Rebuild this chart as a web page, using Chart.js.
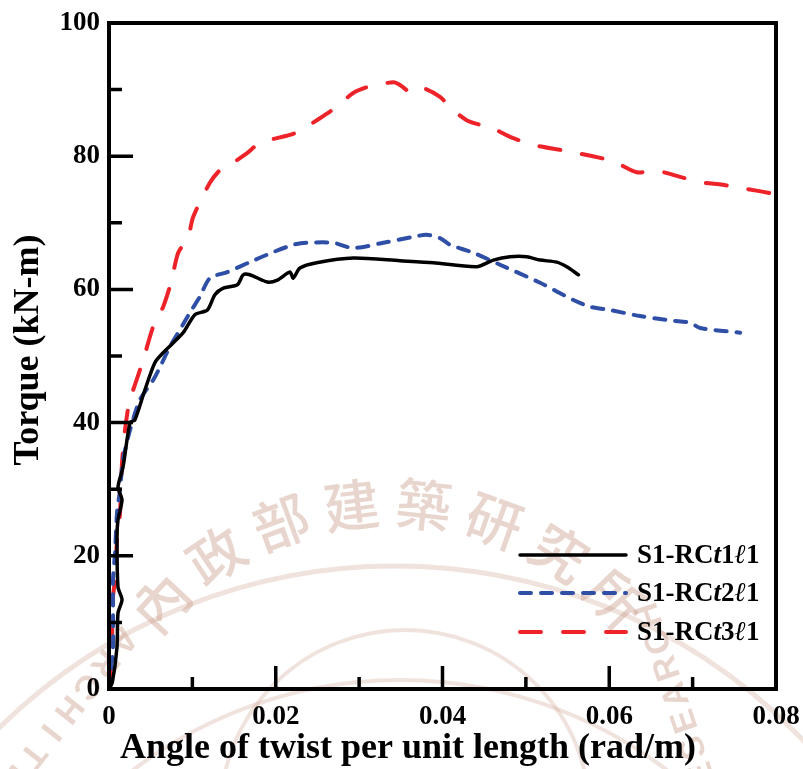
<!DOCTYPE html>
<html>
<head>
<meta charset="utf-8">
<script src="https://cdn.jsdelivr.net/npm/chart.js@4/dist/chart.umd.min.js"></script>
<style>
  html, body { margin: 0; padding: 0; background: #fff; }
</style>
</head>
<body>
<canvas id="torque" width="803" height="769"></canvas>
<script>
// S1-RCt1l1 (black, solid)
const t1Angle  = [0, 0.0004, 0.00096, 0.00108, 0.00156, 0.00108, 0.00096, 0.00108, 0.00156, 0.00108, 0.00168, 0.00252, 0.0031, 0.0043, 0.0055, 0.0065, 0.0089, 0.0103, 0.0118, 0.0127, 0.0137, 0.0154, 0.0161, 0.0169, 0.019, 0.0202, 0.0217, 0.0221, 0.0229, 0.0249, 0.0293, 0.0349, 0.0389, 0.0441, 0.0461, 0.0481, 0.0501, 0.0517, 0.0537, 0.0549, 0.0563];
const t1Torque = [0, 1, 6.3, 11.4, 13.4, 15.3, 22.8, 25.4, 28.4, 30.3, 33.3, 40, 40.4, 44.9, 49, 50.5, 53.5, 56.2, 56.9, 59.2, 60.2, 60.7, 62.2, 62.2, 61.1, 61.4, 62.6, 61.7, 63.2, 64, 64.7, 64.3, 64, 63.4, 64.4, 64.9, 64.9, 64.4, 64.1, 63.4, 62.2];

// S1-RCt2l1 (blue, short dash)
const t2Angle  = [0, 0.00012, 0.00048, 0.00048, 0.00048, 0.00072, 0.00096, 0.00132, 0.00168, 0.00252, 0.0037, 0.0053, 0.0061, 0.0073, 0.0085, 0.0097, 0.0109, 0.0121, 0.0142, 0.0169, 0.0197, 0.0221, 0.0237, 0.0269, 0.0293, 0.0329, 0.0365, 0.0381, 0.0397, 0.0409, 0.0437, 0.0469, 0.0517, 0.0557, 0.0577, 0.0601, 0.0637, 0.0676, 0.0697, 0.0709, 0.0757];
const t2Torque = [0, 1.4, 6.3, 12.3, 16.4, 20.4, 26.4, 29.9, 34.4, 38.9, 43.4, 46.4, 48.3, 51.4, 53.9, 56.5, 58.9, 61.7, 62.6, 64.1, 65.6, 66.7, 67, 67, 66.2, 67, 67.9, 68.2, 67.7, 66.7, 65.5, 63.7, 61, 58.4, 57.4, 56.9, 56, 55.3, 55, 54.2, 53.5];

// S1-RCt3l1 (red, long dash)
const t3Angle  = [0, 0.00012, 0.00036, 0.00048, 0.00072, 0.00096, 0.00132, 0.00156, 0.00192, 0.00252, 0.0029, 0.0041, 0.0053, 0.0065, 0.0073, 0.0076, 0.0083, 0.0095, 0.0101, 0.0121, 0.0133, 0.0145, 0.0166, 0.0181, 0.0217, 0.0229, 0.0253, 0.0273, 0.0293, 0.0313, 0.0341, 0.0349, 0.0361, 0.0369, 0.0377, 0.0397, 0.0413, 0.0429, 0.0445, 0.0465, 0.0481, 0.0509, 0.0557, 0.0601, 0.0609, 0.0633, 0.0657, 0.0685, 0.0709, 0.0736, 0.076, 0.08];
const t3Torque = [0, 1.4, 7.4, 13.8, 16.4, 22.4, 26.4, 33.9, 38.9, 43.8, 44.9, 49.4, 54.4, 57.4, 60.4, 61.9, 65.5, 67.9, 70.9, 76, 77.9, 78.7, 80.5, 82, 83.2, 83.8, 85.7, 87.4, 89.5, 90.5, 91.1, 90.7, 89.6, 89.6, 90.2, 88.9, 86.9, 85.4, 84.7, 83.9, 82.9, 81.7, 80.6, 79.4, 79, 77.6, 77.8, 76.9, 76.1, 75.7, 75.2, 74.3];

const seriesNames = ['S1-RCt1ℓ1', 'S1-RCt2ℓ1', 'S1-RCt3ℓ1'];

const xMajor = [0, 0.02, 0.04, 0.06, 0.08];
const xLabels = ['0', '0.02', '0.04', '0.06', '0.08'];
const yMajor = [0, 20, 40, 60, 80, 100];
const yLabels = ['0', '20', '40', '60', '80', '100'];

const xTitle = 'Angle of twist per unit length (rad/m)';
const yTitle = 'Torque (kN-m)';

const sealName = ['內', '政', '部', '建', '築', '研', '究', '所'];

const pts = (xs, ys) => xs.map((x, i) => ({ x: x, y: ys[i] }));
const majorLabel = (v, majors, labels) => {
  const i = majors.findIndex(m => Math.abs(m - v) < 1e-9);
  return i >= 0 ? labels[i] : '';
};

const SERIF = '"Liberation Serif", "Times New Roman", serif';

// faint seal printed behind the plot
const watermark = {
  id: 'watermark',
  beforeDraw(chart) {
    const ctx = chart.ctx;
    ctx.save();
    ctx.strokeStyle = 'rgba(195,145,125,0.25)';
    ctx.lineWidth = 5;
    ctx.beginPath(); ctx.arc(395, 1131, 565, 0, Math.PI * 2); ctx.stroke();
    ctx.lineWidth = 4;
    ctx.beginPath(); ctx.arc(405, 815, 185, Math.PI, Math.PI * 2); ctx.stroke();
    ctx.beginPath(); ctx.arc(400, 1120, 440, 0, Math.PI * 2); ctx.stroke();

    ctx.fillStyle = 'rgba(195,145,125,0.38)';
    const cx = 390, cy = 816;
    ctx.textAlign = 'center';
    ctx.textBaseline = 'middle';
    ctx.font = '500 56px "Noto Sans CJK TC"';
    sealName.forEach((ch, i) => {
      const a = (-47 + i * 13.3) * Math.PI / 180;
      ctx.save();
      ctx.translate(cx + 313 * Math.sin(a), cy - 313 * Math.cos(a));
      ctx.rotate(a);
      ctx.fillText(ch, 0, 0);
      ctx.restore();
    });

    // English ring text, read from inside the seal
    ctx.font = 'bold 34px "Liberation Sans"';
    const run = (word, x0, y0, x1, y1) => {
      const n = word.length;
      const ang = Math.atan2(y1 - y0, x1 - x0);
      [...word].forEach((ch, i) => {
        const f = n > 1 ? i / (n - 1) : 0;
        ctx.save();
        ctx.translate(x0 + (x1 - x0) * f, y0 + (y1 - y0) * f);
        ctx.rotate(ang);
        ctx.fillText(ch, 0, 0);
        ctx.restore();
      });
    };
    run('ARCHITEC', 122, 640, -4, 800);
    run('RESEARCH', 712, 800, 650, 615);
    ctx.restore();
  }
};

// frame, inward ticks, axis titles and legend
const decor = {
  id: 'decor',
  afterDraw(chart) {
    const ctx = chart.ctx;
    const a = chart.chartArea;
    const xs = chart.scales.x, ys = chart.scales.y;
    ctx.save();
    ctx.strokeStyle = '#000';
    ctx.lineWidth = 4;
    ctx.strokeRect(a.left, a.top, a.right - a.left, a.bottom - a.top);

    ctx.lineWidth = 3.5;
    ctx.beginPath();
    xs.ticks.forEach(t => {
      const px = xs.getPixelForValue(t.value);
      const len = majorLabel(t.value, xMajor, xLabels) ? 23 : 12;
      ctx.moveTo(px, a.bottom);
      ctx.lineTo(px, a.bottom - len);
    });
    ys.ticks.forEach(t => {
      const py = ys.getPixelForValue(t.value);
      const len = majorLabel(t.value, yMajor, yLabels) ? 24 : 13;
      ctx.moveTo(a.left, py);
      ctx.lineTo(a.left + len, py);
    });
    ctx.stroke();

    ctx.fillStyle = '#000';
    ctx.font = 'bold 36px ' + SERIF;
    ctx.textAlign = 'center';
    ctx.textBaseline = 'alphabetic';
    ctx.fillText(xTitle, 408, 758);
    ctx.save();
    ctx.translate(38, 350);
    ctx.rotate(-Math.PI / 2);
    ctx.fillText(yTitle, 0, 0);
    ctx.restore();

    // legend
    const rowY = [555, 593, 632];
    chart.data.datasets.forEach((ds, i) => {
      ctx.save();
      ctx.strokeStyle = ds.borderColor;
      ctx.lineWidth = ds.borderWidth;
      ctx.lineCap = 'round';
      ctx.setLineDash(ds.borderDash || []);
      ctx.beginPath();
      ctx.moveTo(520, rowY[i]);
      ctx.lineTo(626, rowY[i]);
      ctx.stroke();
      ctx.restore();

      let x = 637;
      ctx.textAlign = 'left';
      ctx.textBaseline = 'middle';
      for (const ch of ds.label) {
        const italic = ch === 't' || ch === 'ℓ';
        ctx.font = (italic ? 'italic ' : '') + 'bold 27px ' + SERIF;
        ctx.fillText(ch, x, rowY[i] + 1);
        x += ctx.measureText(ch).width;
      }
    });
    ctx.restore();
  }
};

const datasets = [
  { label: seriesNames[0], data: pts(t1Angle, t1Torque), borderColor: '#000000', borderWidth: 3.5, order: 0 },
  { label: seriesNames[1], data: pts(t2Angle, t2Torque), borderColor: '#2f4fa6', borderWidth: 4, borderDash: [11, 10], order: 1 },
  { label: seriesNames[2], data: pts(t3Angle, t3Torque), borderColor: '#ee2229', borderWidth: 4, borderDash: [21, 22], order: 2 }
].map(d => Object.assign({
  showLine: true,
  pointRadius: 0,
  fill: false,
  tension: 0.25,
  borderCapStyle: 'round',
  borderJoinStyle: 'round'
}, d));

new Chart(document.getElementById('torque'), {
  type: 'scatter',
  data: { datasets: datasets },
  plugins: [watermark, decor],
  options: {
    responsive: false,
    animation: false,
    layout: { padding: { left: 0, right: 27, top: 23, bottom: 0 } },
    plugins: { legend: { display: false }, tooltip: { enabled: false } },
    scales: {
      x: {
        type: 'linear',
        min: 0, max: 0.08,
        afterFit: s => { s.height = 80; s.paddingLeft = 0; s.paddingRight = 0; },
        grid: { display: false },
        border: { display: false },
        ticks: {
          stepSize: 0.01,
          autoSkip: false,
          maxRotation: 0,
          padding: 4,
          color: '#000',
          font: { family: SERIF, size: 27, weight: 'bold' },
          callback: v => majorLabel(v, xMajor, xLabels)
        }
      },
      y: {
        min: 0, max: 100,
        afterFit: s => { s.width = 109; s.paddingTop = 0; s.paddingBottom = 0; },
        grid: { display: false },
        border: { display: false },
        ticks: {
          stepSize: 10,
          autoSkip: false,
          padding: 1,
          color: '#000',
          font: { family: SERIF, size: 27, weight: 'bold' },
          callback: v => majorLabel(v, yMajor, yLabels)
        }
      }
    }
  }
});
</script>
</body>
</html>
